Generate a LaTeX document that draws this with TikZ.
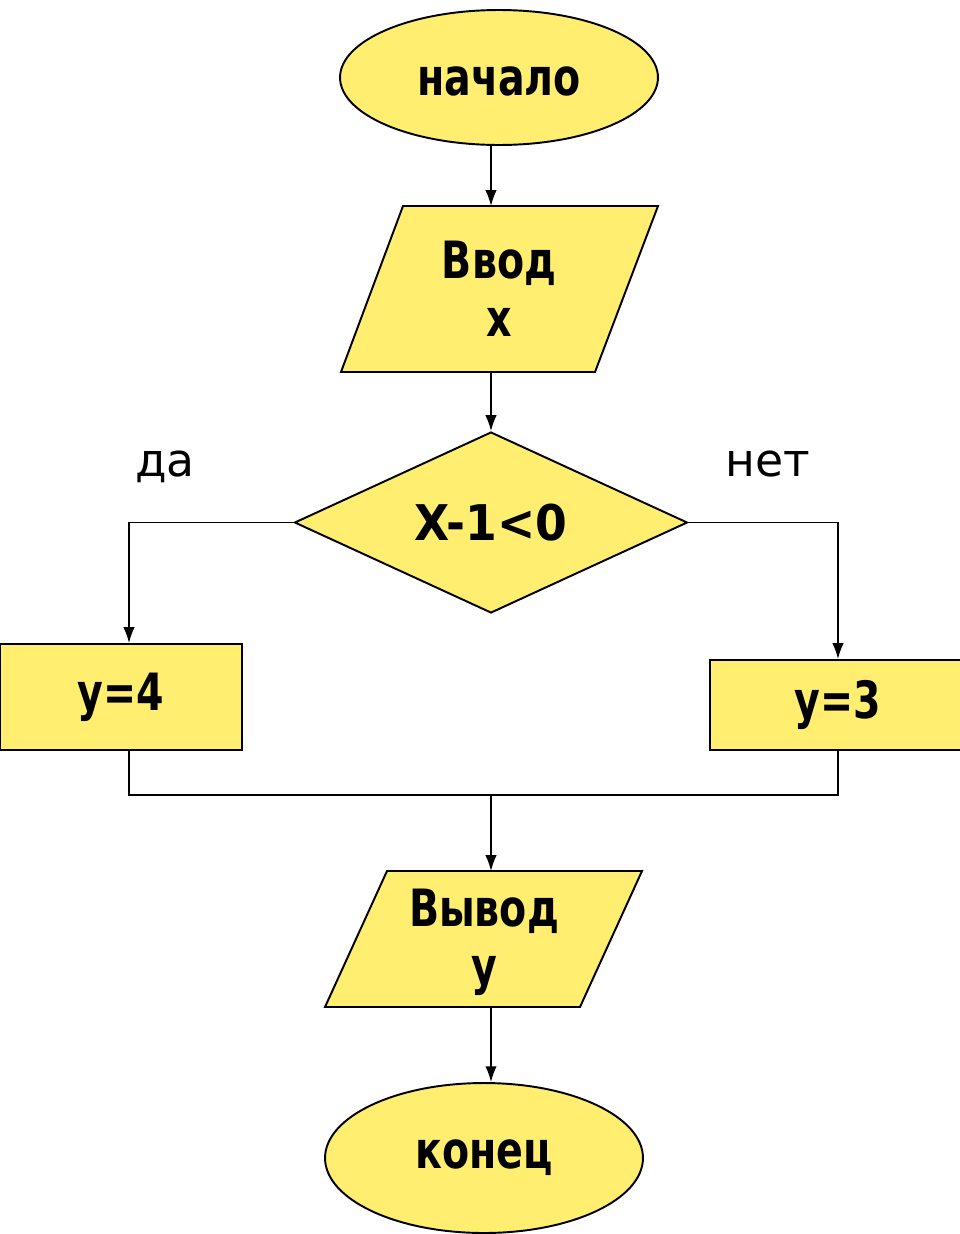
\documentclass[tikz,border=0pt]{standalone}
\usepackage{graphicx}
\usepackage{fontspec}
\setmainfont{DejaVu Sans}
\usetikzlibrary{shapes.geometric,arrows.meta}
\definecolor{blockfill}{HTML}{FFEE6F}
% tall, narrow lettering for the block captions
\newcommand{\tallbf}[1]{\scalebox{0.9}[1.17]{#1}}
\begin{document}
\begin{tikzpicture}[x=0.02cm,y=-0.02cm,
  outline/.style={draw=black, line width=1.1pt, fill=blockfill},
  term/.style={outline, ellipse, inner sep=0pt},
  proc/.style={outline, rectangle, inner sep=0pt},
  cond/.style={outline, diamond, inner sep=0pt, aspect=2.17},
  lbl/.style={font=\fontsize{25}{31}\selectfont\bfseries, align=center},
  flow/.style={line width=0.9pt, -{Latex[length=9pt,width=6.5pt]}},
  link/.style={line width=0.9pt},
  branch/.style={font=\fontsize{26}{30}\selectfont}]
\path[use as bounding box] (0,0) rectangle (960,1234);
\clip (0,0) rectangle (960,1234);

% start terminal
\node[term, lbl, minimum width=6.36cm, minimum height=2.7cm] (start) at (499,77.5)
  {\raisebox{-2.5pt}[\height][\depth]{\tallbf{начало}}};

% input block
\draw[outline] (403,206) -- (658,206) -- (595,372) -- (341,372) -- cycle;
\node[lbl] (in) at (499,289) {\tallbf{Ввод}\\[2pt]\tallbf{x}};
\coordinate (inTop) at (491,206);
\coordinate (inBot) at (491,372);
\draw[flow] (start.south -| inTop) -- (inTop);

% condition
\node[cond, lbl, minimum width=7.86cm, minimum height=3.62cm] (test) at (491,522.5)
  {\scalebox{1.04}[1.12]{X-1<0}};
\draw[flow] (inBot) -- (test.north);

% branch labels
\node[branch] (yesl) at (165,467) {да};
\node[branch] (nol) at (768,464) {нет};

% branch actions
\node[proc, lbl, minimum width=4.84cm, minimum height=2.12cm] (yes) at (121,697) {\tallbf{y=4}};
\node[proc, lbl, minimum width=5.12cm, minimum height=1.8cm] (no) at (838,705) {\tallbf{y=3}};
\draw[flow] (test.west) -| ([xshift=0.16cm]yes.north);
\draw[flow] (test.east) -| (no.north);

% merge
\coordinate (join) at (491,795);
\draw[link] ([xshift=0.16cm]yes.south) |- (join);
\draw[link] (no.south) |- (join);

% output block
\draw[outline] (387,871) -- (642,871) -- (580,1007) -- (325,1007) -- cycle;
\node[lbl] (out) at (484,942) {\tallbf{Вывод}\\[2pt]\tallbf{y}};
\coordinate (outTop) at (491,871);
\coordinate (outBot) at (491,1007);
\draw[flow] (join) -- (outTop);

% end terminal
\node[term, lbl, minimum width=6.36cm, minimum height=3cm] (stop) at (484,1158) {\tallbf{конец}};
\draw[flow] (outBot) -- (outBot |- stop.north);
\end{tikzpicture}
\end{document}
